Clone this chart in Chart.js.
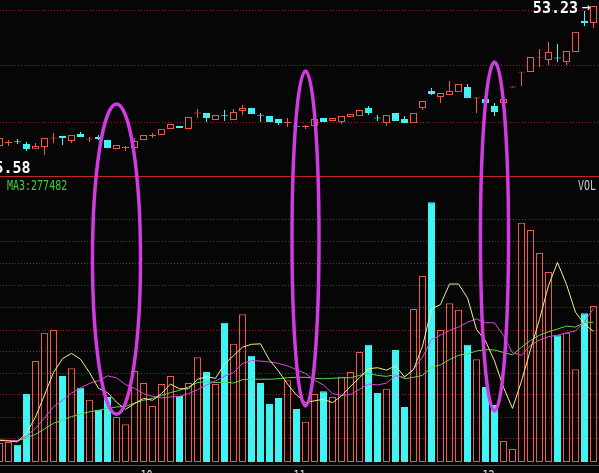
<!DOCTYPE html>
<html>
 <head>
  <title>K-line with VOL</title>
  <style>
  html, body {
   margin: 0;
   padding: 0;
   background: #060606;
  }
  canvas {
   display: block;
  }
  </style>
 </head>
 <body>
 <canvas id="chart-kline" width="599" height="473"></canvas>
 <script src="https://cdn.jsdelivr.net/npm/chart.js@4.4.1/dist/chart.umd.min.js"></script>
 <script type="text/javascript">
 // Daily bars, left to right (index 0..66)
 const OPEN  = [46.04,46.20,46.28,46.15,45.87,45.99,46.43,46.56,46.30,46.66,46.38,46.50,46.35,45.89,45.94,45.94,46.35,46.56,46.61,46.92,
                47.07,46.92,47.71,47.74,47.38,47.64,47.38,47.84,47.99,47.64,47.58,47.43,47.22,47.08,47.02,47.07,47.48,47.33,47.27,47.53,
                47.58,47.99,47.51,47.22,47.74,47.43,47.22,47.99,48.87,48.56,48.66,48.81,49.07,48.48,48.46,48.10,48.25,49.05,49.81,49.84,
                50.58,50.46,50.59,50.35,50.87,52.46,52.36];
 const HIGH  = [46.50,46.35,46.40,46.25,46.20,46.45,46.71,46.56,46.61,46.76,46.50,46.61,46.35,46.09,46.04,46.45,46.61,46.71,46.92,47.17,
                47.07,47.53,47.94,47.74,47.63,47.89,47.94,48.15,47.99,47.74,47.58,47.43,47.48,47.17,47.12,47.43,47.48,47.48,47.58,47.69,
                47.89,48.10,47.63,47.63,47.74,47.58,47.74,48.35,49.02,48.76,49.38,49.23,49.23,48.56,48.46,48.25,48.46,49.10,49.86,50.61,
                51.02,51.38,51.28,50.92,51.90,52.97,53.23];
 const LOW   = [45.89,46.04,46.15,45.79,45.87,45.58,46.20,46.09,46.20,46.50,46.25,46.35,45.94,45.89,45.79,45.94,46.35,46.45,46.61,46.92,
                46.97,46.92,47.48,47.27,47.38,47.33,47.38,47.63,47.69,47.27,47.27,47.12,47.02,46.97,46.92,47.07,47.27,47.33,47.17,47.53,
                47.58,47.63,47.33,47.07,47.33,47.22,47.22,47.89,48.66,48.25,48.66,48.81,48.51,47.74,48.25,47.58,47.99,49.05,49.12,49.84,
                50.10,50.20,50.35,50.20,50.87,52.20,52.10];
 const CLOSE = [46.45,46.25,46.23,45.89,46.04,46.45,46.48,46.45,46.61,46.50,46.43,46.40,45.94,46.09,45.99,46.30,46.61,46.61,46.92,47.17,
                46.97,47.53,47.76,47.48,47.63,47.59,47.79,47.99,47.69,47.59,47.27,47.22,47.27,47.03,47.07,47.43,47.27,47.48,47.58,47.69,
                47.89,47.74,47.46,47.63,47.33,47.22,47.74,48.35,48.71,48.76,48.87,49.23,48.51,48.53,48.25,47.79,48.46,49.10,49.86,50.61,
                50.63,50.87,50.54,50.92,51.90,52.36,53.23];

 // Volume (thousand shares) and its moving averages
 const VOL  = [40,42,36,142,211,270,276,180,196,155,130,109,136,94,79,190,165,117,163,180,
               138,165,219,188,163,291,247,309,222,165,121,134,171,111,84,142,148,136,178,188,
               230,245,144,153,234,115,320,389,543,276,332,318,245,215,157,119,44,27,500,485,
               437,397,265,270,194,311,326];
 const MA5  = [45,44,42,61,94,140,187,216,227,215,187,154,145,125,110,122,133,129,143,163,
               153,153,173,178,175,205,222,240,246,247,213,190,163,140,124,128,131,124,138,158,
               176,195,197,192,201,178,193,242,320,329,372,372,343,277,253,211,156,112,169,235,
               298,369,417,371,313,288,273];
 const MA10 = [45,45,44,54,70,92,115,129,144,155,164,170,180,176,162,154,143,137,134,136,
               137,143,151,161,169,179,187,206,212,211,209,206,201,193,185,171,161,143,139,141,
               152,163,161,165,180,177,194,219,256,265,275,282,292,299,291,291,264,228,223,244,
               255,262,265,270,274,293,321];
 const MA20 = [46,45,45,50,58,69,81,87,95,100,105,108,112,115,116,123,129,133,139,145,
               150,157,166,168,166,167,165,172,173,173,173,174,176,177,177,175,174,175,176,176,
               181,185,181,179,183,174,177,181,198,203,214,223,226,232,235,234,229,224,240,254,
               265,272,278,284,282,292,292];

 // Month marks on the bottom axis
 const MONTH_IDX = [16, 33, 54];
 const MONTH_TXT = ['10', '11', '12'];

 // Grid levels
 const PRICE_GRID = [47.30, 50.20, 53.02];
 const VOL_GRID = [50, 94, 142, 186, 232, 276, 324, 370, 416, 462, 508];
 const VOL_PANEL_TOP = 598;

 // Marked extremes
 const HI_IDX = 66, HI_TXT = '53.23';
 const LO_IDX = 5, LO_TXT = '45.58';
 const MA_TXT = 'MA3:277482';

 // Hand-drawn rings: bar index, half width (in bars), top (price), bottom (volume)
 const RING_IDX = [13, 34, 55];
 const RING_HALF = [2.67, 1.5, 1.56];
 const RING_TOP = [48.20, 49.89, 50.35];
 const RING_BOTTOM = [100, 117, 107];

 const UP = '#f05a44', DOWN = '#40f4f4', BG = '#060606';
 const up = OPEN.map((o, i) => CLOSE[i] >= o);
 const colors = up.map(u => u ? UP : DOWN);

 const decor = {
  id: 'decor',
  beforeDraw(chart) {
   const ctx = chart.ctx;
   ctx.save();
   ctx.fillStyle = BG;
   ctx.fillRect(0, 0, chart.width, chart.height);
   ctx.restore();
  },
  beforeDatasetsDraw(chart) {
   const {ctx, chartArea, scales} = chart;
   const hline = y => {
    ctx.beginPath();
    ctx.moveTo(chartArea.left, y);
    ctx.lineTo(chartArea.right, y);
    ctx.stroke();
   };
   ctx.save();
   ctx.lineWidth = 1;
   ctx.strokeStyle = '#962020';
   ctx.setLineDash([1, 2]);
   PRICE_GRID.forEach(v => hline(Math.round(scales.yp.getPixelForValue(v)) + 0.5));
   VOL_GRID.forEach(v => hline(Math.round(scales.yv.getPixelForValue(v)) + 0.5));
   ctx.setLineDash([]);
   ctx.strokeStyle = '#c42424';
   hline(Math.round(scales.yv.getPixelForValue(VOL_PANEL_TOP)) + 0.5);
   hline(chartArea.bottom + 3.5);
   ctx.restore();
  },
  afterDatasetsDraw(chart) {
   const {ctx, scales} = chart;
   const x = scales.x, yp = scales.yp, yv = scales.yv;
   ctx.save();
   // rings
   ctx.strokeStyle = '#d03ce0';
   ctx.lineWidth = 3.5;
   RING_IDX.forEach((k, i) => {
    const cx = x.getPixelForValue(k);
    const rx = x.getPixelForValue(k + RING_HALF[i]) - cx;
    const top = yp.getPixelForValue(RING_TOP[i]);
    const bottom = yv.getPixelForValue(RING_BOTTOM[i]);
    ctx.beginPath();
    ctx.ellipse(cx, (top + bottom) / 2, rx, (bottom - top) / 2, 0, 0, Math.PI * 2);
    ctx.stroke();
   });
   // extreme price labels
   ctx.fillStyle = '#ffffff';
   ctx.font = 'bold 15px "DejaVu Sans Mono"';
   ctx.textAlign = 'right';
   ctx.textBaseline = 'alphabetic';
   ctx.fillText(HI_TXT, x.getPixelForValue(HI_IDX) - 15.5, yp.getPixelForValue(HIGH[HI_IDX]) + 7.5);
   ctx.font = '15px "DejaVu Sans Mono"';
   ctx.textAlign = 'left';
   ctx.fillText('\u2192', x.getPixelForValue(HI_IDX) - 12, yp.getPixelForValue(HIGH[HI_IDX]) + 6);
   ctx.font = 'bold 15px "DejaVu Sans Mono"';
   ctx.textAlign = 'right';
   ctx.fillText(LO_TXT, x.getPixelForValue(LO_IDX) - 14, yp.getPixelForValue(LOW[LO_IDX]) + 18);
   // small tall mono text
   const small = (txt, px, py, align, color) => {
    ctx.save();
    ctx.fillStyle = color;
    ctx.font = '10px "DejaVu Sans Mono"';
    ctx.textAlign = align;
    ctx.translate(px, py);
    ctx.scale(1, 1.35);
    ctx.fillText(txt, 0, 0);
    ctx.restore();
   };
   const headY = yv.getPixelForValue(VOL_PANEL_TOP) + 14;
   small(MA_TXT, 7, headY, 'left', '#44cc3c');
   small('VOL', 596, headY, 'right', '#c8c8c8');
   MONTH_IDX.forEach((k, i) => small(MONTH_TXT[i], x.getPixelForValue(k) + 3, chart.chartArea.bottom + 18, 'center', '#d8d8d8'));
   ctx.restore();
  }
 };

 const idx = OPEN.map((o, i) => i);
 const ctx = document.getElementById('chart-kline').getContext('2d');
 const klineChart = new Chart(ctx, {
  type: 'bar',
  data: {
   datasets: [
    {
     label: 'MA5',
     type: 'line',
     yAxisID: 'yv',
     data: idx.map(i => ({x: i, y: MA5[i]})),
     borderColor: '#f2ee8c',
     borderWidth: 1,
     pointRadius: 0,
     tension: 0,
     order: 1
    },
    {
     label: 'MA10',
     type: 'line',
     yAxisID: 'yv',
     data: idx.map(i => ({x: i, y: MA10[i]})),
     borderColor: '#d848d8',
     borderWidth: 1,
     pointRadius: 0,
     tension: 0,
     order: 1
    },
    {
     label: 'MA20',
     type: 'line',
     yAxisID: 'yv',
     data: idx.map(i => ({x: i, y: MA20[i]})),
     borderColor: '#5cd848',
     borderWidth: 1,
     pointRadius: 0,
     tension: 0,
     order: 1
    },
    {
     label: 'VOL',
     yAxisID: 'yv',
     data: idx.map(i => ({x: i, y: VOL[i]})),
     backgroundColor: up.map(u => u ? 'rgba(0,0,0,0)' : DOWN),
     borderColor: colors,
     borderWidth: 1,
     borderSkipped: false,
     barThickness: 7,
     grouped: false,
     inflateAmount: 0,
     order: 3
    },
    {
     label: 'body',
     yAxisID: 'yp',
     data: idx.map(i => ({x: i, y: [OPEN[i], CLOSE[i]]})),
     backgroundColor: up.map(u => u ? BG : DOWN),
     borderColor: colors,
     borderWidth: 1,
     borderSkipped: false,
     barThickness: 7,
     grouped: false,
     inflateAmount: 0,
     order: 4
    },
    {
     label: 'wick',
     yAxisID: 'yp',
     data: idx.map(i => ({x: i, y: [LOW[i], HIGH[i]]})),
     backgroundColor: colors,
     borderWidth: 0,
     barThickness: 1,
     grouped: false,
     inflateAmount: 0,
     order: 5
    }
   ]
  },
  options: {
   responsive: false,
   devicePixelRatio: 1,
   animation: false,
   events: [],
   layout: {padding: {left: 0, right: 0, top: 0, bottom: 11}},
   plugins: {legend: {display: false}, tooltip: {enabled: false}},
   scales: {
    x: {type: 'linear', min: 0.0556, max: 66.6111, offset: false, display: false},
    yp: {type: 'linear', min: 29.819, max: 53.538, display: false},
    yv: {type: 'linear', min: 0, max: 965.6, display: false}
   }
  },
  plugins: [decor]
 });
 </script>
 </body>
</html>
